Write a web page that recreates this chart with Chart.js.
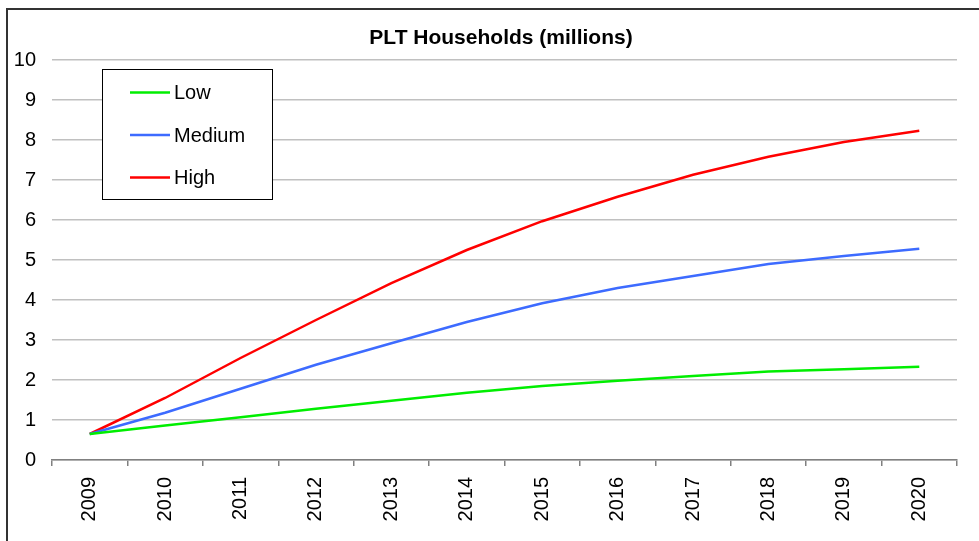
<!DOCTYPE html>
<html>
<head>
<meta charset="utf-8">
<script src="https://cdn.jsdelivr.net/npm/chart.js@4.4.1/dist/chart.umd.min.js"></script>
<style>
  html, body { margin: 0; padding: 0; background: #fff; }
  #wrap { width: 979px; height: 541px; }
</style>
</head>
<body>
<div id="wrap"><canvas id="plt"></canvas></div>
<script>
const years = ["2009", "2010", "2011", "2012", "2013", "2014", "2015", "2016", "2017", "2018", "2019", "2020"];
const lowValues = [0.65, 0.86, 1.07, 1.28, 1.48, 1.68, 1.85, 1.98, 2.10, 2.21, 2.27, 2.33];
const mediumValues = [0.65, 1.18, 1.78, 2.38, 2.92, 3.45, 3.92, 4.30, 4.60, 4.90, 5.10, 5.28];
const highValues = [0.65, 1.55, 2.55, 3.50, 4.42, 5.25, 5.97, 6.58, 7.13, 7.58, 7.95, 8.23];
const yTicks = [0, 1, 2, 3, 4, 5, 6, 7, 8, 9, 10];
const chartTitle = "PLT Households (millions)";

const FONT = "'Liberation Sans', Arial, sans-serif";

// frame around the chart (only top and left edges are visible) plus the title
const framePlugin = {
  id: "frame",
  beforeDraw(chart) {
    const c = chart.ctx;
    c.save();
    c.strokeStyle = "#333";
    c.lineWidth = 2;
    c.beginPath();
    c.moveTo(7, 541);
    c.lineTo(7, 9);
    c.lineTo(979, 9);
    c.stroke();
    c.fillStyle = "#000";
    c.font = "bold 21px " + FONT;
    c.textAlign = "center";
    c.textBaseline = "middle";
    c.fillText(chartTitle, 501, 38);
    c.restore();
  }
};

// boxed legend sitting inside the plot area
const boxLegend = {
  id: "boxLegend",
  afterDraw(chart) {
    const c = chart.ctx;
    const x = 102.5, y = 69.5, w = 170, h = 130;
    c.save();
    c.fillStyle = "#fff";
    c.fillRect(x, y, w, h);
    c.strokeStyle = "#000";
    c.lineWidth = 1;
    c.strokeRect(x, y, w, h);
    c.font = "20px " + FONT;
    c.textBaseline = "middle";
    chart.data.datasets.forEach((ds, i) => {
      const ly = 92.5 + i * 42.5;
      c.strokeStyle = ds.borderColor;
      c.lineWidth = 2.5;
      c.beginPath();
      c.moveTo(130, ly);
      c.lineTo(170, ly);
      c.stroke();
      c.fillStyle = "#000";
      c.fillText(ds.label, 174, ly + 1);
    });
    c.restore();
  }
};

const makeLine = (label, data, color) => ({
  label,
  data,
  borderColor: color,
  backgroundColor: color,
  borderWidth: 2.5,
  pointRadius: 0,
  tension: 0,
  fill: false
});

new Chart(document.getElementById("plt"), {
  type: "line",
  data: {
    labels: years,
    datasets: [
      makeLine("Low", lowValues, "#00ee00"),
      makeLine("Medium", mediumValues, "#3d6bff"),
      makeLine("High", highValues, "#ff0000")
    ]
  },
  options: {
    responsive: true,
    maintainAspectRatio: false,
    devicePixelRatio: 1,
    animation: false,
    layout: { padding: { left: 0, right: 22, top: 60, bottom: 0 } },
    plugins: {
      legend: { display: false },
      tooltip: { enabled: false },
      title: { display: false }
    },
    scales: {
      x: {
        offset: true,
        grid: {
          offset: true,
          drawOnChartArea: false,
          drawTicks: true,
          tickLength: 6,
          color: "#808080",
          lineWidth: 1.5
        },
        border: { display: true, color: "#808080", width: 1.5 },
        ticks: {
          color: "#000",
          font: { family: FONT, size: 20 },
          minRotation: 90,
          maxRotation: 90,
          padding: 11,
          autoSkip: false
        },
        afterFit(scale) { scale.height = 81; }
      },
      y: {
        min: 0,
        max: 10,
        afterBuildTicks(scale) { scale.ticks = yTicks.map(v => ({ value: v })); },
        grid: { color: "#c0c0c0", lineWidth: 1.5, drawTicks: false },
        border: { display: false },
        ticks: {
          color: "#000",
          font: { family: FONT, size: 20 },
          padding: 16
        },
        afterFit(scale) { scale.width = 52; }
      }
    }
  },
  plugins: [framePlugin, boxLegend]
});
</script>
</body>
</html>
